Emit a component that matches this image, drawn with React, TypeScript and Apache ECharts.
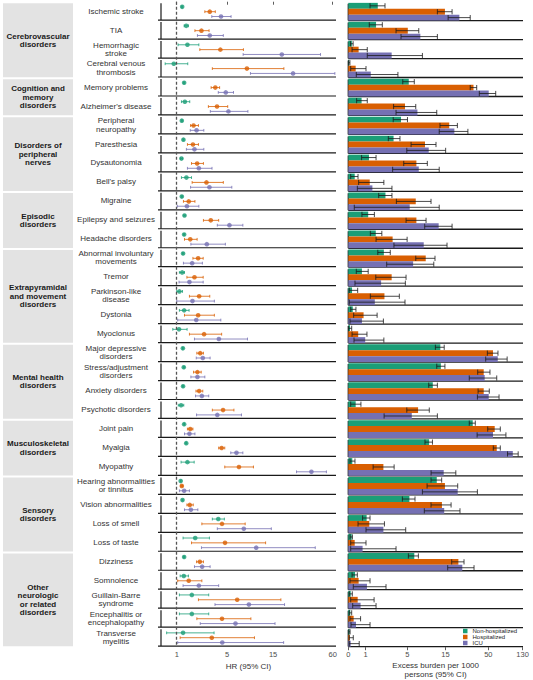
import React, { useEffect, useRef } from 'react';
import * as echarts from 'echarts';

const groupNames = [
  'Cerebrovascular\ndisorders',
  'Cognition and\nmemory\ndisorders',
  'Disorders of\nperipheral\nnerves',
  'Episodic\ndisorders',
  'Extrapyramidal\nand movement\ndisorders',
  'Mental health\ndisorders',
  'Musculoskeletal\ndisorders',
  'Sensory\ndisorders',
  'Other\nneurologic\nor related\ndisorders',
];
const groupSizes = [4, 2, 4, 3, 5, 4, 3, 4, 5];

const conditions = [
  'Ischemic stroke', 'TIA', 'Hemorrhagic\nstroke', 'Cerebral venous\nthrombosis',
  'Memory problems', "Alzheimer's disease",
  'Peripheral\nneuropathy', 'Paresthesia', 'Dysautonomia', "Bell's palsy",
  'Migraine', 'Epilepsy and seizures', 'Headache disorders',
  'Abnormal involuntary\nmovements', 'Tremor', 'Parkinson-like\ndisease', 'Dystonia', 'Myoclonus',
  'Major depressive\ndisorders', 'Stress/adjustment\ndisorders', 'Anxiety disorders', 'Psychotic disorders',
  'Joint pain', 'Myalgia', 'Myopathy',
  'Hearing abnormalities\nor tinnitus', 'Vision abnormalities', 'Loss of smell', 'Loss of taste',
  'Dizziness', 'Somnolence', 'Guillain-Barre\nsyndrome', 'Encephalitis or\nencephalopathy', 'Transverse\nmyelitis',
];

const seriesNames = ['Non-hospitalized', 'Hospitalized', 'ICU'];

// Hazard ratios (95% CI)
const hrNonHosp = [1.29, 1.52, 1.59, 0.85, 1.40, 1.44, 1.27, 1.36, 1.25, 1.53, 1.27, 1.42, 1.40, 1.34, 1.29, 1.14, 1.40, 1.12, 1.33, 1.38, 1.34, 1.23, 1.40, 1.52, 1.59, 1.21, 1.31, 4.00, 2.08, 1.40, 1.38, 1.86, 1.86, 1.34];
const hrNonHospLo = [1.26, 1.40, 1.07, 0.43, 1.37, 1.25, 1.24, 1.33, 1.20, 1.25, 1.24, 1.38, 1.37, 1.31, 1.14, 1.00, 1.14, 0.80, 1.31, 1.35, 1.31, 1.08, 1.38, 1.49, 1.23, 1.19, 1.28, 3.42, 1.34, 1.37, 1.18, 1.14, 1.14, 0.50];
const hrNonHospHi = [1.32, 1.65, 2.33, 1.61, 1.43, 1.73, 1.30, 1.39, 1.30, 1.84, 1.30, 1.46, 1.43, 1.38, 1.42, 1.31, 1.69, 1.57, 1.35, 1.41, 1.37, 1.38, 1.42, 1.55, 2.01, 1.23, 1.34, 4.67, 3.16, 1.43, 1.65, 3.10, 3.10, 3.58];
const hrHosp = [3.19, 2.52, 4.22, 8.10, 3.70, 3.87, 1.97, 1.93, 2.21, 2.91, 1.67, 3.28, 1.76, 2.28, 2.03, 2.35, 2.28, 2.72, 2.43, 2.23, 2.35, 4.52, 1.76, 4.36, 6.69, 1.27, 1.73, 4.40, 4.75, 2.40, 1.67, 6.41, 4.40, 3.37];
const hrHospLo = [2.78, 2.06, 2.40, 3.42, 3.31, 3.07, 1.78, 1.59, 1.84, 1.88, 1.36, 2.67, 1.42, 1.93, 1.56, 1.71, 1.42, 1.71, 2.19, 1.97, 2.13, 3.42, 1.59, 4.04, 4.72, 1.22, 1.56, 2.55, 1.84, 2.17, 1.05, 2.30, 2.19, 1.18];
const hrHospHi = [3.70, 3.13, 7.45, 19.3, 4.14, 5.08, 2.30, 2.30, 2.67, 4.55, 2.06, 4.04, 2.21, 2.65, 2.65, 3.19, 3.61, 4.36, 2.67, 2.50, 2.62, 5.92, 1.93, 4.72, 9.46, 1.32, 1.95, 7.77, 12.6, 2.67, 2.55, 18.0, 8.90, 9.69];
const hrIcu = [4.29, 3.19, 18.4, 23.9, 4.84, 5.17, 2.17, 2.03, 2.33, 3.16, 1.56, 5.30, 2.94, 1.88, 1.71, 1.90, 2.15, 4.06, 2.62, 2.23, 2.55, 3.90, 1.71, 6.30, 36.6, 1.40, 1.80, 7.52, 10.1, 2.57, 2.33, 8.49, 6.15, 4.43];
const hrIcuLo = [3.37, 2.23, 7.40, 8.81, 4.00, 3.24, 1.76, 1.53, 1.59, 1.78, 1.03, 3.90, 1.80, 1.36, 1.12, 1.00, 1.05, 2.03, 2.15, 1.80, 2.10, 2.17, 1.42, 5.48, 25.9, 1.14, 1.42, 3.90, 2.52, 2.03, 1.34, 3.67, 2.43, 1.05];
const hrIcuHi = [5.52, 4.55, 45.2, 63.0, 5.86, 8.29, 2.70, 2.70, 3.39, 5.62, 2.33, 7.35, 4.79, 2.59, 2.65, 3.61, 4.27, 8.21, 3.22, 2.78, 3.10, 7.11, 2.06, 7.35, 51.8, 1.71, 2.26, 14.4, 40.0, 3.22, 4.04, 19.6, 15.7, 19.2];

// Excess burden per 1000 persons (95% CI)
const ebNonHosp = [1.84, 1.71, 0.20, 0.05, 5.23, 0.76, 4.13, 3.26, 1.22, 0.36, 2.47, 1.17, 1.69, 2.33, 0.78, 0.21, 0.25, 0.095, 13.0, 13.2, 10.5, 0.415, 32.3, 9.46, 0.224, 11.75, 5.33, 1.07, 0.19, 6.16, 0.38, 0.134, 0.11, 0.07];
const ebNonHospLo = [1.29, 1.24, 0.12, 0.02, 4.36, 0.47, 3.22, 2.73, 0.76, 0.134, 1.91, 0.78, 1.31, 1.84, 0.45, 0.056, 0.134, 0.02, 11.3, 11.75, 9.35, 0.134, 29.3, 8.4, 0.095, 9.98, 4.31, 0.82, 0.10, 5.17, 0.21, 0.056, 0.056, 0.03];
const ebNonHospHi = [2.43, 2.20, 0.27, 0.09, 6.16, 1.11, 5.03, 4.00, 1.71, 0.55, 3.09, 1.59, 2.16, 2.92, 1.17, 0.53, 0.43, 0.19, 14.5, 14.8, 11.96, 0.72, 34.7, 10.4, 0.375, 13.5, 6.29, 1.29, 0.23, 6.94, 0.51, 0.224, 0.19, 0.10];
const ebHosp = [14.8, 5.08, 0.585, 0.415, 33.0, 4.67, 16.7, 8.4, 6.55, 1.27, 6.43, 6.55, 3.16, 8.58, 3.06, 2.38, 0.88, 0.56, 56.9, 43.9, 43.9, 6.88, 59.7, 63.2, 2.29, 14.8, 13.6, 1.24, 0.36, 21.6, 0.585, 0.53, 0.30, 0.08];
const ebHospLo = [11.96, 3.53, 0.21, 0.134, 30.1, 3.26, 12.87, 5.6, 4.49, 0.585, 3.57, 4.82, 1.71, 6.43, 1.69, 1.31, 0.30, 0.21, 48.6, 37.1, 37.5, 4.93, 49.1, 57.4, 1.50, 8.92, 9.98, 0.55, 0.134, 17.9, 0.095, 0.134, 0.095, 0.056];
const ebHospHi = [18.1, 7.02, 1.11, 1.03, 36.1, 6.43, 21.0, 11.5, 8.98, 2.33, 9.98, 8.66, 4.98, 11.18, 4.82, 3.92, 1.79, 1.09, 65.4, 52.3, 51.3, 9.5, 69.8, 69.8, 3.32, 21.2, 17.6, 2.38, 1.03, 25.3, 1.29, 1.57, 0.70, 0.28];
const ebIcu = [22.2, 7.35, 3.06, 1.34, 50.5, 6.75, 19.3, 9.35, 7.02, 1.45, 5.38, 12.4, 8.1, 5.95, 2.10, 1.62, 0.78, 0.98, 65.0, 45.1, 50.5, 5.72, 56.9, 99.0, 14.3, 21.2, 14.5, 2.29, 0.82, 24.1, 1.09, 0.70, 0.433, 0.134];
const ebIcuLo = [16.2, 4.13, 1.11, 0.45, 38.8, 3.53, 12.6, 4.93, 3.16, 0.51, 0.336, 8.33, 3.30, 2.58, 0.375, 0.056, 0.095, 0.32, 46.4, 29.3, 36.8, 2.35, 36.5, 85.4, 10.0, 7.8, 8.24, 1.03, 0.134, 16.0, 0.28, 0.246, 0.151, 0.056];
const ebIcuHi = [30.1, 11.96, 7.8, 3.75, 61.4, 11.75, 28.2, 15.1, 12.6, 3.09, 12.6, 18.1, 15.7, 10.8, 4.72, 4.67, 2.29, 2.33, 84.5, 63.2, 67.4, 11.96, 81.7, 115.0, 20.1, 36.8, 22.6, 4.77, 3.53, 33.5, 2.52, 1.71, 1.29, 0.62];

const hrTicks = [1, 5, 15, 60];
const burdenTicks = [0, 1, 5, 15, 50, 130];
const hrRange = [0.234, 64.7];
const burdenRange = [0, 131.6];

const colors = ['#1b9e77', '#d95f02', '#7570b3'];
const FONT = '"Liberation Sans", Arial, Helvetica, sans-serif';

// pseudo-log scale
const T = (x: number) => Math.asinh(x / 2);
const inv = (t: number) => 2 * Math.sinh(t);

const N = conditions.length;
const Y0 = 1.73;
const PITCH = 18.97;
const BAR_W = 5.9;

export default function App() {
  const ref = useRef<HTMLDivElement>(null);

  useEffect(() => {
    if (!ref.current) return;
    const chart = echarts.init(ref.current, null, { renderer: 'svg' });

    const hrSets = [
      [hrNonHosp, hrNonHospLo, hrNonHospHi],
      [hrHosp, hrHospLo, hrHospHi],
      [hrIcu, hrIcuLo, hrIcuHi],
    ];
    const ebSets = [
      [ebNonHosp, ebNonHospLo, ebNonHospHi],
      [ebHosp, ebHospLo, ebHospHi],
      [ebIcu, ebIcuLo, ebIcuHi],
    ];
    const offsets = [0.27, 0.525, 0.78];
    const cats = conditions.map((c) => c.replace('\n', ' '));

    const frameSeries = (ai: number, extendLeft: number, lw: number) => ({
      type: 'custom',
      xAxisIndex: ai,
      yAxisIndex: ai,
      silent: true,
      z: 1,
      data: conditions.map((_, i) => [ai === 0 ? T(1) : 0, ai === 0 ? i + 0.5 : i, i]),
      encode: { x: 0, y: 1 },
      renderItem: (params: any, api: any) => {
        const cs = params.coordSys;
        const i = api.value(2);
        const ph = cs.height / N;
        const top = cs.y + i * ph;
        const bot = top + ph - 0.6;
        const st = { stroke: '#1a1a1a', lineWidth: lw };
        return {
          type: 'group',
          children: [
            { type: 'line', shape: { x1: cs.x - extendLeft, y1: bot, x2: cs.x + cs.width, y2: bot }, style: st },
            { type: 'line', shape: { x1: cs.x, y1: top + 1.4, x2: cs.x, y2: bot }, style: st },
          ],
        };
      },
    });

    const series: any[] = [frameSeries(0, 3, 1.2), frameSeries(1, 0, 1.3)];

    hrSets.forEach(([est, lo, hi], g) => {
      series.push({
        type: 'custom',
        name: seriesNames[g],
        xAxisIndex: 0,
        yAxisIndex: 0,
        z: 3,
        silent: true,
        data: est.map((_, i) => [T(lo[i]), T(hi[i]), i + offsets[g]]),
        encode: { x: [0, 1], y: 2 },
        renderItem: (params: any, api: any) => {
          const a = api.coord([api.value(0), api.value(2)]);
          const b = api.coord([api.value(1), api.value(2)]);
          const c = 1.4;
          const st = { stroke: colors[g], lineWidth: 0.8 };
          return {
            type: 'group',
            children: [
              { type: 'line', shape: { x1: a[0], y1: a[1], x2: b[0], y2: b[1] }, style: st },
              { type: 'line', shape: { x1: a[0], y1: a[1] - c, x2: a[0], y2: a[1] + c }, style: st },
              { type: 'line', shape: { x1: b[0], y1: b[1] - c, x2: b[0], y2: b[1] + c }, style: st },
            ],
          };
        },
      });
      series.push({
        type: 'scatter',
        name: seriesNames[g],
        xAxisIndex: 0,
        yAxisIndex: 0,
        z: 4,
        symbol: 'circle',
        symbolSize: 4.6,
        itemStyle: { color: colors[g] },
        data: est.map((v, i) => [T(v), i + offsets[g]]),
        markLine:
          g === 0
            ? {
                silent: true,
                symbol: 'none',
                label: { show: false },
                lineStyle: { type: [3, 2], color: '#555555', width: 1.3 },
                data: [{ xAxis: T(1) }],
              }
            : undefined,
      });
    });

    ebSets.forEach(([est], g) => {
      series.push({
        type: 'bar',
        name: seriesNames[g],
        xAxisIndex: 1,
        yAxisIndex: 1,
        z: 2,
        barWidth: BAR_W,
        barGap: '0%',
        itemStyle: { color: colors[g] },
        data: est.map((v) => T(v)),
      });
    });
    ebSets.forEach(([est, lo, hi], g) => {
      series.push({
        type: 'custom',
        xAxisIndex: 1,
        yAxisIndex: 1,
        z: 5,
        silent: true,
        data: est.map((_, i) => [T(lo[i]), T(hi[i]), i]),
        encode: { x: [0, 1], y: 2 },
        renderItem: (params: any, api: any) => {
          const a = api.coord([api.value(0), api.value(2)]);
          const b = api.coord([api.value(1), api.value(2)]);
          const y = a[1] + (g - 1) * BAR_W;
          const c = 2.6;
          const st = { stroke: '#1a1a1a', lineWidth: 0.8 };
          return {
            type: 'group',
            children: [
              { type: 'line', shape: { x1: a[0], y1: y, x2: b[0], y2: y }, style: st },
              { type: 'line', shape: { x1: a[0], y1: y - c, x2: a[0], y2: y + c }, style: st },
              { type: 'line', shape: { x1: b[0], y1: y - c, x2: b[0], y2: y + c }, style: st },
            ],
          };
        },
      });
    });

    // group strips
    const graphics: any[] = [];
    let start = 0;
    groupNames.forEach((name, gi) => {
      const top = Y0 + start * PITCH + 1.6;
      const bottom = Y0 + (start + groupSizes[gi]) * PITCH - 0.4;
      start += groupSizes[gi];
      graphics.push({
        type: 'rect',
        shape: { x: 3, y: top, width: 70, height: bottom - top },
        style: { fill: '#e3e3e3' },
        silent: true,
      });
      graphics.push({
        type: 'text',
        x: 38,
        y: (top + bottom) / 2,
        silent: true,
        style: {
          text: name,
          align: 'center',
          verticalAlign: 'middle',
          fontSize: 8,
          fontWeight: 'bold',
          fontFamily: FONT,
          lineHeight: 8.5,
          fill: '#1a1a1a',
        },
      });
    });

    const gridH = PITCH * N;

    chart.setOption({
      animation: false,
      textStyle: { fontFamily: FONT },
      grid: [
        { left: 161, top: Y0, width: 175, height: gridH, outerBoundsMode: 'none', containLabel: false },
        { left: 348.3, top: Y0 + 0.5, width: 174.7, height: gridH, outerBoundsMode: 'none', containLabel: false },
      ],
      xAxis: [
        {
          type: 'value',
          gridIndex: 0,
          min: T(hrRange[0]),
          max: T(hrRange[1]),
          splitLine: { show: false },
          axisLine: { show: false },
          axisTick: { show: true, customValues: hrTicks.map(T), length: 3, lineStyle: { color: '#333', width: 0.8 } },
          axisLabel: {
            customValues: hrTicks.map(T),
            formatter: (v: number) => String(Math.round(inv(v))),
            fontSize: 7.5,
            color: '#4d4d4d',
            margin: 4,
            showMinLabel: true,
            showMaxLabel: true,
          },
          name: 'HR (95% CI)',
          nameLocation: 'middle',
          nameGap: 16,
          nameMoveOverlap: false,
          nameTextStyle: { fontSize: 8, color: '#333' },
        },
        {
          type: 'value',
          gridIndex: 1,
          min: T(burdenRange[0]),
          max: T(burdenRange[1]),
          splitLine: { show: false },
          axisLine: { show: false },
          axisTick: { show: true, customValues: burdenTicks.map(T), length: 3, lineStyle: { color: '#333', width: 0.8 } },
          axisLabel: {
            customValues: burdenTicks.map(T),
            formatter: (v: number) => {
              const x = inv(v);
              return x < 0.01 ? '0' : String(Math.round(x));
            },
            fontSize: 7.5,
            color: '#4d4d4d',
            margin: 3.5,
            showMinLabel: true,
            showMaxLabel: true,
          },
          name: 'Excess burden per 1000\npersons (95% CI)',
          nameLocation: 'middle',
          nameGap: 13.5,
          nameMoveOverlap: false,
          nameTextStyle: { fontSize: 8, color: '#333', lineHeight: 9 },
        },
      ],
      yAxis: [
        {
          type: 'value',
          gridIndex: 0,
          min: 0,
          max: N,
          inverse: true,
          splitLine: { show: false },
          axisLine: { show: false },
          axisTick: { show: false },
          axisLabel: {
            customValues: conditions.map((_, i) => i + 0.5),
            formatter: (v: number) => conditions[Math.floor(v)] || '',
            align: 'center',
            margin: 45,
            fontSize: 8,
            lineHeight: 8.3,
            color: '#333',
          },
        },
        {
          type: 'category',
          gridIndex: 1,
          data: cats,
          min: 0,
          max: N - 1,
          inverse: true,
          axisLine: { show: false },
          axisTick: { show: false },
          axisLabel: { show: false },
          splitLine: { show: false },
        },
      ],
      legend: {
        orient: 'vertical',
        left: 463,
        top: 628,
        padding: 0,
        itemWidth: 4.5,
        itemHeight: 4.5,
        itemGap: 0,
        selectedMode: false,
        textStyle: { fontSize: 6, lineHeight: 6, color: '#1a1a1a' },
        data: seriesNames.map((n, g) => ({ name: n, icon: 'rect', itemStyle: { color: colors[g] } })),
      },
      graphic: graphics,
      series,
    });

    return () => chart.dispose();
  }, []);

  return (
    <div
      ref={ref}
      style={{ position: 'fixed', left: 0, top: 0, width: 533, height: 680, background: '#fff' }}
    />
  );
}
